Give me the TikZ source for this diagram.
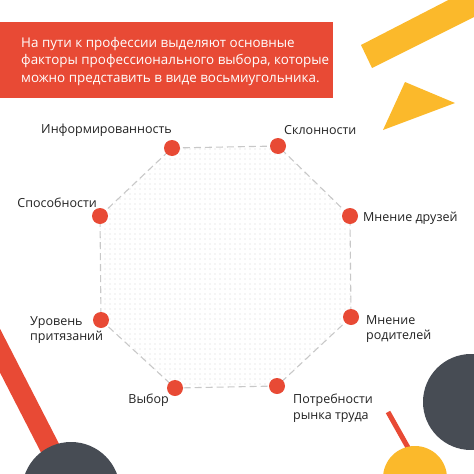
\documentclass[tikz,border=0pt]{standalone}
\usepackage{fontspec}
\setmainfont{Open Sans}
\usetikzlibrary{patterns.meta}
\definecolor{cred}{HTML}{E84A35}
\definecolor{cyel}{HTML}{FBB92B}
\definecolor{cdark}{HTML}{474C54}
\definecolor{cline}{HTML}{C8C8C8}
\definecolor{ctext}{HTML}{222222}
\tikzset{
  dotnode/.style={circle, fill=cred, minimum size=16pt, inner sep=0pt},
  lbl/.style={font=\fontsize{12.5}{15.5}\selectfont, text=ctext, inner sep=0pt, align=left},
  octline/.style={draw=cline, line width=1.1pt, dash pattern=on 7pt off 4pt},
}
\begin{document}
\begin{tikzpicture}[x=1pt,y=-1pt]
\useasboundingbox (0,0) rectangle (474,474);
\clip (0,0) rectangle (474,474);
% decorations
\fill[cyel] (361,45) -- (372,68) -- (520,-6) -- (460,-6) -- cycle;
\fill[cyel] (405,82) -- (455,103) -- (383,130) -- cycle;
\draw[cred, line width=20pt] (-26,300) -- (72,491);
\fill[cdark] (71,491) circle[radius=49];
\fill[cdark] (471,402) circle[radius=48];
\draw[cred, line width=5pt] (388,412) -- (415,460);
\fill[cyel] (415,478) circle[radius=32];
% header
\fill[cred] (0,22) rectangle (333,98);
\node[lbl, text=white, font=\fontsize{13.4}{17.3}\selectfont, anchor=west] (head) at (21,61.5)
  {На пути к профессии выделяют основные\\факторы профессионального выбора, которые\\можно представить в виде восьмиугольника.};
% octagon
\coordinate (pinf) at (172,148);
\coordinate (pskl) at (278,146);
\coordinate (pdru) at (350,216);
\coordinate (prod) at (351,317);
\coordinate (ppot) at (277,386);
\coordinate (pvyb) at (175,388);
\coordinate (purv) at (101,320);
\coordinate (pspo) at (100,216);
\fill[pattern={Dots[distance=5pt, radius=0.55pt]}, pattern color=black!17]
  (pinf) -- (pskl) -- (pdru) -- (prod) -- (ppot) -- (pvyb) -- (purv) -- (pspo) -- cycle;
\draw[octline] (pinf) -- (pskl) -- (pdru) -- (prod) -- (ppot) -- (pvyb) -- (purv) -- (pspo) -- cycle;
\node[dotnode] (inf) at (pinf) {};
\node[dotnode] (skl) at (pskl) {};
\node[dotnode] (dru) at (pdru) {};
\node[dotnode] (rod) at (prod) {};
\node[dotnode] (pot) at (ppot) {};
\node[dotnode] (vyb) at (pvyb) {};
\node[dotnode] (urv) at (purv) {};
\node[dotnode] (spo) at (pspo) {};
% labels
\node[lbl, anchor=base east] (linf) at (172,133) {Информированность};
\node[lbl, anchor=base west] (lskl) at (284,134) {Склонности};
\node[lbl, anchor=base east] (lspo) at (97,207) {Способности};
\node[lbl, anchor=base west] (ldru) at (363,221) {Мнение друзей};
\node[lbl, anchor=west] (lurv) at (30,330) {Уровень\\притязаний};
\node[lbl, anchor=west] (lrod) at (366,329) {Мнение\\родителей};
\node[lbl, anchor=base east] (lvyb) at (169,403) {Выбор};
\node[lbl, anchor=west] (lpot) at (293,408) {Потребности\\рынка труда};
\end{tikzpicture}
\end{document}
